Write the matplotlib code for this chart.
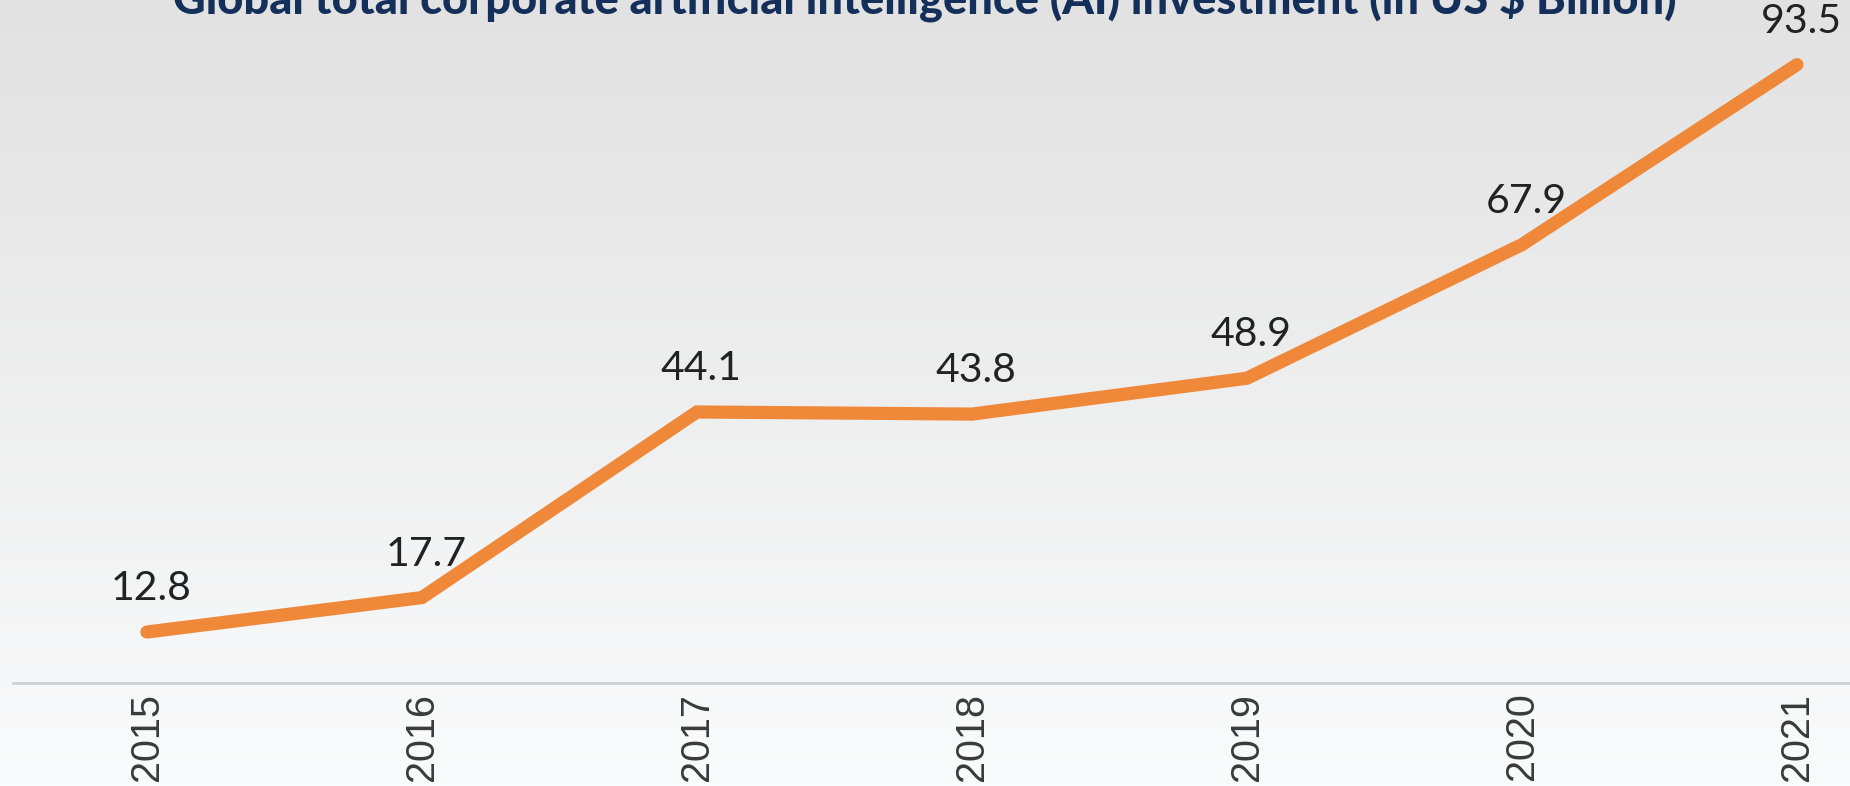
import matplotlib.pyplot as plt
import numpy as np
from matplotlib.colors import LinearSegmentedColormap

# data
years = ['2015', '2016', '2017', '2018', '2019', '2020', '2021']
investment = [12.8, 17.7, 44.1, 43.8, 48.9, 67.9, 93.5]
title = 'Global total corporate artificial intelligence (AI) investment (in US $ Billion)'

fig = plt.figure(figsize=(18.5, 7.86), dpi=100)

# background gradient (light grey on top -> almost white at bottom)
bg = fig.add_axes([0, 0, 1, 1], zorder=0)
cmap = LinearSegmentedColormap.from_list('bg', ['#e2e2e2', '#fafbfc'])
bg.imshow(np.linspace(0, 1, 256).reshape(-1, 1), aspect='auto', cmap=cmap,
          extent=[0, 1, 0, 1])
bg.axis('off')

ax = fig.add_axes([13 / 1850, 1 - 683 / 786, 1 - 13 / 1850, 683 / 786], zorder=1)
ax.patch.set_visible(False)
x = np.arange(len(years))
ax.plot(x, investment, color='#f0883a', linewidth=9.5, solid_capstyle='round',
        solid_joinstyle='miter', clip_on=False)
for xi, v in zip(x, investment):
    ax.annotate(f'{v}', (xi, v), xytext=(3, 23), textcoords='offset points',
                ha='center', va='baseline', fontsize=29.5, family='Lato',
                color='#222222', annotation_clip=False)

ax.set_xlim(-0.487, 6.193)
ax.set_ylim(5.55, 102.7)
ax.set_xticks(x)
ax.set_xticklabels(years, rotation=90, fontsize=28.5, family='Liberation Sans',
                   color='#3a3a3a', va='top')
ax.tick_params(axis='x', length=0, pad=7)
ax.set_yticks([])
for s in ['top', 'right', 'left']:
    ax.spines[s].set_visible(False)
ax.spines['bottom'].set_color('#d0d0d0')
ax.spines['bottom'].set_linewidth(2)

# title is cropped at the top edge, as in the source image
fig.text(0.5, 1 - 14 / 786, title, ha='center', va='baseline', fontsize=32.5,
         fontweight='black', family='Lato', color='#14305a')

fig.savefig('out.png', dpi=100)
